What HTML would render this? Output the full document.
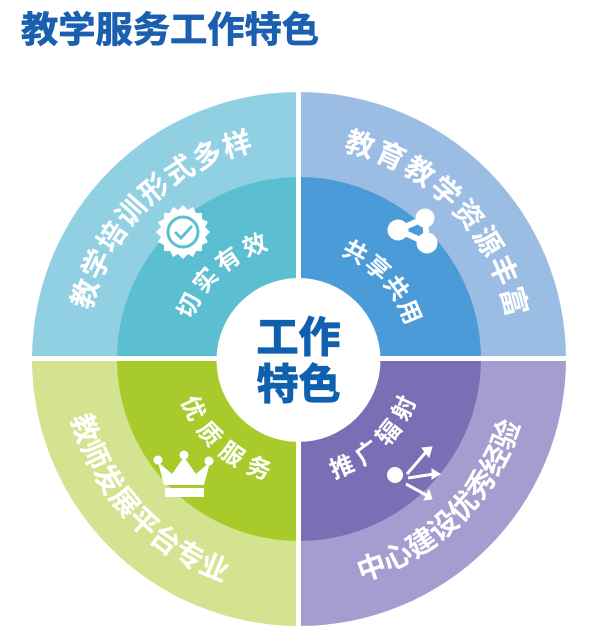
<!DOCTYPE html>
<html><head><meta charset="utf-8">
<style>
html,body{margin:0;padding:0;background:#fff;}
svg{display:block;}
text{font-family:"Liberation Sans","Noto Sans CJK SC",sans-serif;font-weight:bold;}
</style></head>
<body>
<svg width="600" height="631" viewBox="0 0 600 631" xmlns="http://www.w3.org/2000/svg">
<text x="21" y="42" font-size="36" fill="#1a5fb0" textLength="298" lengthAdjust="spacingAndGlyphs" stroke="#1a5fb0" stroke-width="0.8">教学服务工作特色</text>
<path d="M299,359 L32,359 A267,267 0 0 1 299,92 Z" fill="#91d0e3"/>
<path d="M299,359 L299,92 A267,267 0 0 1 566,359 Z" fill="#9bbde4"/>
<path d="M299,359 L32,359 A267,267 0 0 0 299,626 Z" fill="#d3e38f"/>
<path d="M299,359 L566,359 A267,267 0 0 1 299,626 Z" fill="#a59ccf"/>
<path d="M299,359 L117,359 A182,182 0 0 1 299,177 Z" fill="#5bbfd1"/>
<path d="M299,359 L299,177 A182,182 0 0 1 481,359 Z" fill="#4a9bd8"/>
<path d="M299,359 L117,359 A182,182 0 0 0 299,541 Z" fill="#a8cb2b"/>
<path d="M299,359 L481,359 A182,182 0 0 1 299,541 Z" fill="#7a6fb4"/>
<line x1="298.5" y1="80" x2="298.5" y2="631" stroke="#fff" stroke-width="5"/>
<line x1="20" y1="358.5" x2="580" y2="358.5" stroke="#fff" stroke-width="5"/>
<circle cx="298.5" cy="360" r="82" fill="#fff"/>
<text x="298.5" y="352" font-size="42" fill="#1060b0" stroke="#1060b0" stroke-width="1.2" text-anchor="middle">工作</text>
<text x="298.5" y="399" font-size="42" fill="#1060b0" stroke="#1060b0" stroke-width="1.2" text-anchor="middle">特色</text>

<g transform="translate(183,232)">
<polygon fill="#fff" points="0,-27 5,-22 10,-25 13,-19 19,-19 19,-13 25,-10 22,-5 27,0 22,5 25,10 19,13 19,19 13,19 10,25 5,22 0,27 -5,22 -10,25 -13,19 -19,19 -19,13 -25,10 -22,5 -27,0 -22,-5 -25,-10 -19,-13 -19,-19 -13,-19 -10,-25 -5,-22"/>
<circle r="15" fill="none" stroke="#5bbfd1" stroke-width="3"/>
<path d="M-8,0 L-2,6 L9,-6" fill="none" stroke="#5bbfd1" stroke-width="3"/>
</g>
<g fill="#fff" stroke="#fff">
<polygon points="398,230 425,218 427,243" stroke-width="6" fill="none"/>
<circle cx="398" cy="230" r="10"/>
<circle cx="425" cy="218" r="9"/>
<circle cx="427" cy="243" r="10"/>
</g>
<g fill="#fff">
<polygon points="164,485 204,485 210,462 196,474 184,457 172,474 158,462"/>
<circle cx="158" cy="460" r="4.5"/>
<circle cx="184" cy="455" r="4.5"/>
<circle cx="209" cy="461" r="4.5"/>
<rect x="165" y="488" width="39" height="9"/>
</g>
<g fill="#fff" stroke="#fff" stroke-width="3">
<circle cx="395" cy="475" r="8" stroke="none"/>
<line x1="407" y1="474" x2="426" y2="452"/>
<line x1="408" y1="478" x2="434" y2="474"/>
<line x1="406" y1="484" x2="428" y2="496"/>
<polygon points="422,448 432,447 429,457" stroke-width="1"/>
<polygon points="432,469 440,474 432,479" stroke-width="1"/>
<polygon points="424,500 432,499 429,490" stroke-width="1"/>
</g>

<g id="g1" font-size="29" fill="#fff"><text>教</text><text>学</text><text>培</text><text>训</text><text>形</text><text>式</text><text>多</text><text>样</text></g>
<g id="g2" font-size="29" fill="#fff"><text>教</text><text>育</text><text>教</text><text>学</text><text>资</text><text>源</text><text>丰</text><text>富</text></g>
<g id="g3" font-size="29" fill="#fff"><text>教</text><text>师</text><text>发</text><text>展</text><text>平</text><text>台</text><text>专</text><text>业</text></g>
<g id="g4" font-size="29" fill="#fff"><text>中</text><text>心</text><text>建</text><text>设</text><text>优</text><text>秀</text><text>经</text><text>验</text></g>
<g id="g5" font-size="24" fill="#fff"><text>切</text><text>实</text><text>有</text><text>效</text></g>
<g id="g6" font-size="24" fill="#fff"><text>共</text><text>享</text><text>共</text><text>用</text></g>
<g id="g7" font-size="24" fill="#fff"><text>优</text><text>质</text><text>服</text><text>务</text></g>
<g id="g8" font-size="24" fill="#fff"><text>推</text><text>广</text><text>辐</text><text>射</text></g>
</svg>
<script>
var cfg={g1:[222,197,254,1],g2:[222,286,345,1],g3:[226,162,112,0],g4:[222,70.7,20,0],
g5:[121,206,249,1],g6:[120,298,337,1],g7:[117,155,110,0],g8:[117,68,25,0]};
var cx=298.5,cy=359;
for(var k in cfg){var c=cfg[k],g=document.getElementById(k),t=g.getElementsByTagName('text'),n=t.length;
for(var i=0;i<n;i++){var a=c[1]+(c[2]-c[1])*i/(n-1),r=a*Math.PI/180;
var x=cx+c[0]*Math.cos(r),y=cy+c[0]*Math.sin(r),rot=c[3]?a+90:a-90;
t[i].setAttribute('text-anchor','middle');t[i].setAttribute('dominant-baseline','central');
t[i].setAttribute('transform','translate('+x.toFixed(1)+','+y.toFixed(1)+') rotate('+rot.toFixed(1)+')');}}
</script>
</body></html>
